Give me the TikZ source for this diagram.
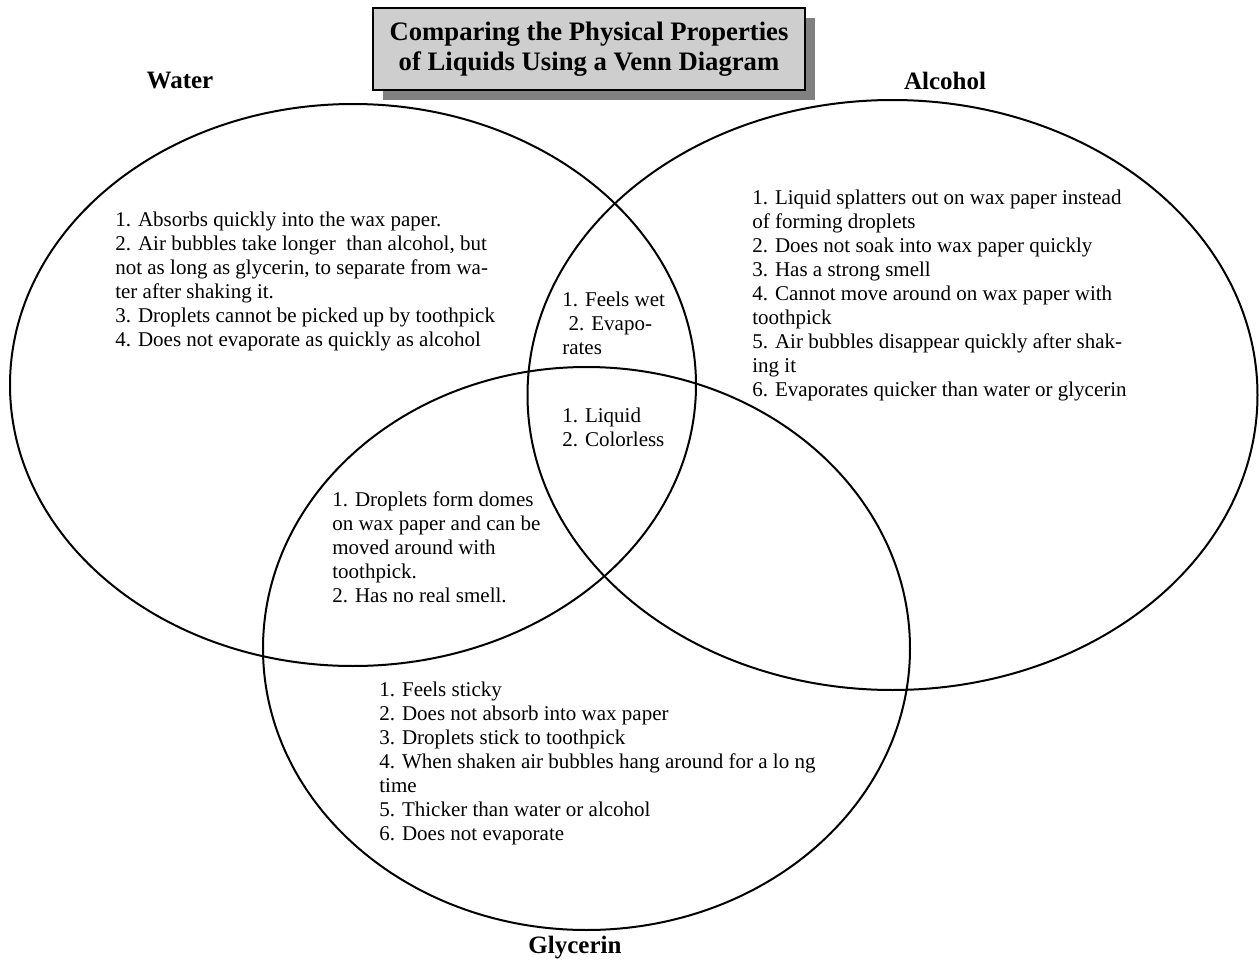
\documentclass[tikz,border=0pt]{standalone}
\usepackage{fontspec}
\setmainfont{Liberation Serif}
\usetikzlibrary{shapes.geometric,shadows}
\definecolor{boxgray}{RGB}{206,206,206}
\definecolor{shadowgray}{RGB}{128,128,128}
\begin{document}
\begin{tikzpicture}[x=0.6pt,y=-0.6pt,
    set node/.style={ellipse,draw,line width=1.2pt,inner sep=0pt},
    set label/.style={font=\fontsize{15}{17}\selectfont\bfseries},
    fact list/.style={anchor=west,align=left,inner sep=0pt,font=\fontsize{12.6}{14.4}\selectfont},
    title box/.style={draw,line width=1.5pt,fill=boxgray,align=center,
        minimum width=259.2pt,minimum height=49.2pt,
        font=\fontsize{16}{18}\selectfont\bfseries,
        drop shadow={shadow xshift=6pt,shadow yshift=-6pt,fill=shadowgray,opacity=1}}]
    \useasboundingbox (0,0) rectangle (1259,962);

    \node[set node,minimum width=411.6pt,minimum height=337.2pt] at (353, 385) (water) {};
    \node[set node,minimum width=438pt,minimum height=354pt] at (892.5, 395) (alcohol) {};
    \node[set node,minimum width=388.2pt,minimum height=337.8pt] at (586.5, 648.5) (glycerin) {};

    \node[title box] at (589, 49) (title) {Comparing the Physical Properties\\of Liquids Using a Venn Diagram};

    \node[set label] at (180, 81) (wlabel) {Water};
    \node[set label] at (945, 81) (alabel) {Alcohol};
    \node[set label] at (575, 948) (glabel) {Glycerin};

    \node[fact list] at (115, 281) (wonly) {1. Absorbs quickly into the wax paper.\\
        2. Air bubbles take longer\ \ than alcohol, but\\
        not as long as glycerin, to separate from wa-\\
        ter after shaking it.\\
        3. Droplets cannot be picked up by toothpick\\
        4. Does not evaporate as quickly as alcohol};
    \node[fact list] at (752, 295) (aonly) {1. Liquid splatters out on wax paper instead\\
        of forming droplets\\
        2. Does not soak into wax paper quickly\\
        3. Has a strong smell\\
        4. Cannot move around on wax paper with\\
        toothpick\\
        5. Air bubbles disappear quickly after shak-\\
        ing it\\
        6. Evaporates quicker than water or glycerin};
    \node[fact list] at (562, 323) (wa) {1. Feels wet\\
        \hspace{0.3em}2. Evapo-\\
        rates};
    \node[fact list] at (562, 427) (wag) {1. Liquid\\
        2. Colorless};
    \node[fact list] at (332, 547) (wg) {1. Droplets form domes\\
        on wax paper and can be\\
        moved around with\\
        toothpick.\\
        2. Has no real smell.};
    \node[fact list] at (379, 763) (gonly) {1. Feels sticky\\
        2. Does not absorb into wax paper\\
        3. Droplets stick to toothpick\\
        4. When shaken air bubbles hang around for a lo ng\\
        time\\
        5. Thicker than water or alcohol\\
        6. Does not evaporate};
\end{tikzpicture}
\end{document}
